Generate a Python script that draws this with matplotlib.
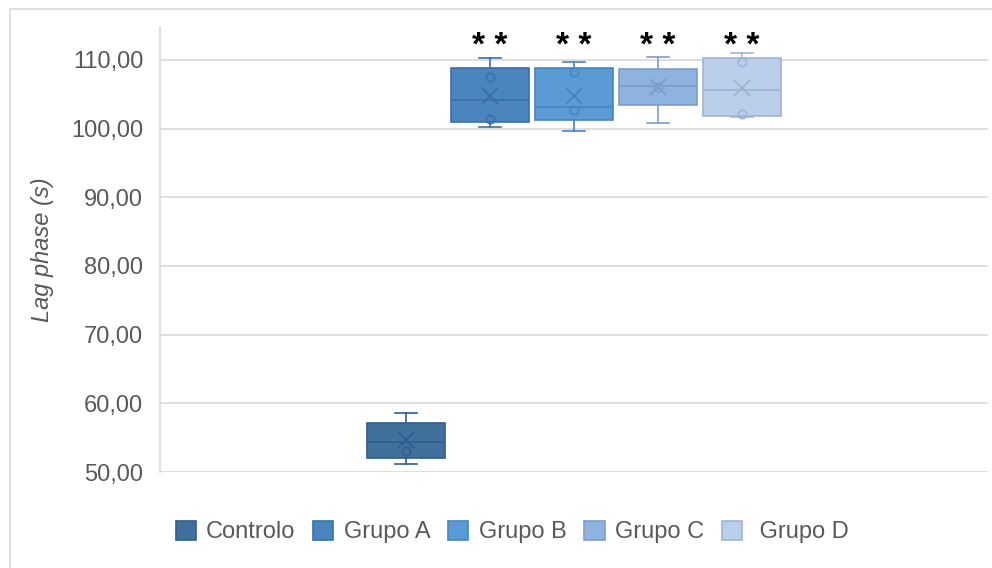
import matplotlib
matplotlib.use("Agg")
import matplotlib.pyplot as plt
from matplotlib.patches import Patch, Rectangle
from matplotlib.ticker import FuncFormatter

plt.rcParams['font.family'] = ['Liberation Sans', 'DejaVu Sans']

# groups and their box statistics (seconds)
groups = ["Controlo", "Grupo A", "Grupo B", "Grupo C", " Grupo D"]
whis_lo = [51.2, 100.3, 99.7, 100.8, 101.7]
q1 = [52.0, 100.9, 101.2, 103.4, 101.9]
median = [54.3, 104.2, 103.2, 106.2, 105.6]
q3 = [57.1, 108.9, 108.9, 108.7, 110.3]
whis_hi = [58.6, 110.3, 109.7, 110.5, 111.0]
means = [54.7, 104.7, 104.7, 106.1, 105.9]
inner_points = [[53.1], [107.5, 101.4], [108.2, 102.7], [106.0], [109.7, 102.2]]
signif = ["", "**", "**", "**", "**"]

face_colors = ["#41709C", "#4A85C0", "#5B9BD5", "#8FB3DF", "#BBCFEA"]
edge_colors = ["#2F5E8C", "#3B70A6", "#4785C0", "#7E9CC6", "#9FB5D6"]

fig = plt.figure(figsize=(9.92, 5.68), dpi=100)
ax = fig.add_axes([160 / 992, 96 / 568, 828 / 992, 445 / 568])

positions = [-2, -1, 0, 1, 2]
for i in range(len(groups)):
    stats = [dict(whislo=whis_lo[i], q1=q1[i], med=median[i], q3=q3[i],
                  whishi=whis_hi[i], mean=means[i], fliers=inner_points[i])]
    ec = edge_colors[i]
    ax.bxp(stats, positions=[positions[i]], widths=0.92, capwidths=0.27,
           patch_artist=True, showmeans=True, showfliers=True,
           boxprops=dict(facecolor=face_colors[i], edgecolor=ec, linewidth=1.2),
           medianprops=dict(color=ec, linewidth=1.2),
           whiskerprops=dict(color=ec, linewidth=1.2),
           capprops=dict(color=ec, linewidth=1.2),
           meanprops=dict(marker="x", markeredgecolor=ec, markersize=11,
                          markeredgewidth=1.4),
           flierprops=dict(marker="o", markerfacecolor="none",
                           markeredgecolor=ec, markersize=6, markeredgewidth=1.2))
    if signif[i]:
        ax.text(positions[i], 111.9, "* *", ha="center", va="center",
                fontsize=24, fontweight="bold", color="black")

ax.set_xlim(-4.93, 4.93)
ax.set_ylim(50, 114.8)
ax.set_yticks([50, 60, 70, 80, 90, 100, 110])
ax.yaxis.set_major_formatter(FuncFormatter(lambda v, p: f"{v:.2f}".replace(".", ",")))
ax.set_xticks([])
ax.tick_params(axis="y", length=0, pad=12, labelsize=17, labelcolor="#595959")
ax.grid(axis="y", color="#D9D9D9", linewidth=1.2)
ax.set_axisbelow(True)
for s in ["top", "right", "bottom"]:
    ax.spines[s].set_visible(False)
ax.spines["left"].set_color("#D9D9D9")
ax.spines["left"].set_linewidth(1.2)

ax.set_ylabel("Lag phase (s)", fontsize=17, style="italic", color="#595959")
ax.yaxis.set_label_coords(-0.128, 0.5)

handles = [Patch(facecolor=face_colors[i], edgecolor=edge_colors[i], linewidth=1.2)
           for i in range(len(groups))]
fig.legend(handles, groups, loc="center", bbox_to_anchor=(512 / 992, 36 / 568),
           ncol=5, frameon=False, fontsize=17, labelcolor="#595959",
           handlelength=0.85, handleheight=0.85, handletextpad=0.45,
           columnspacing=0.75)

# outer chart border
fig.add_artist(Rectangle((10 / 992, -0.1), 1.2, (559 / 568) + 0.1,
                         transform=fig.transFigure, fill=False,
                         edgecolor="#D9D9D9", linewidth=1.2))

fig.savefig("out.png", dpi=100)
